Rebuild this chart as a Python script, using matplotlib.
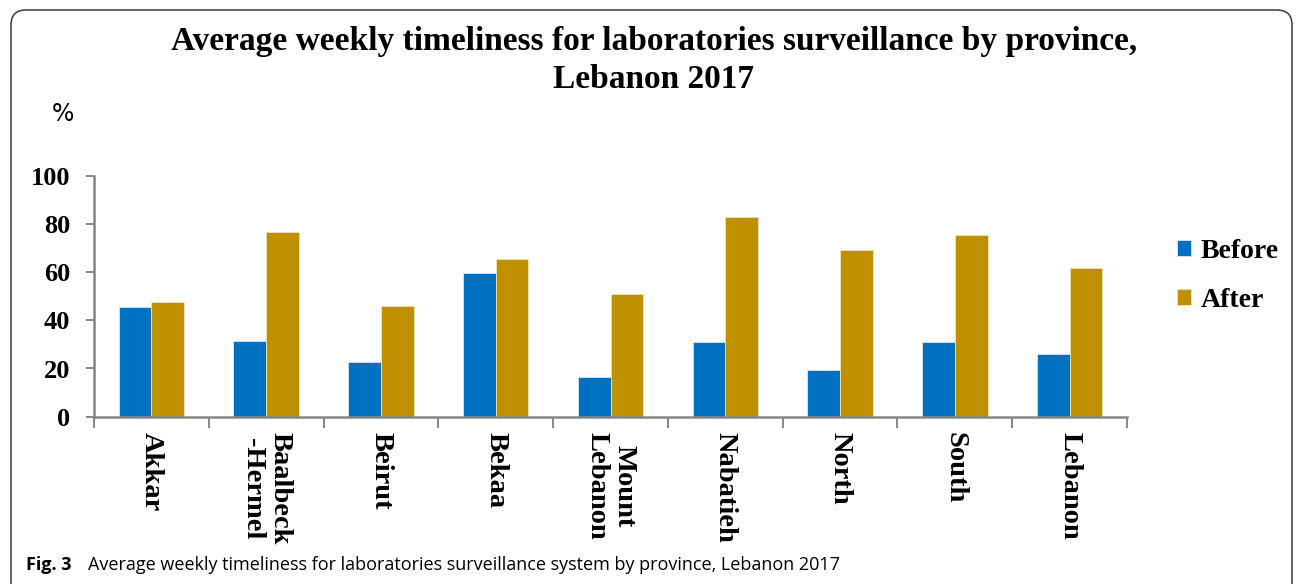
import matplotlib
matplotlib.use("Agg")
import matplotlib.pyplot as plt
from matplotlib.patches import FancyBboxPatch
import numpy as np

# data
provinces = ["Akkar", "Baalbeck\n-Hermel", "Beirut", "Bekaa", "Mount\nLebanon",
             "Nabatieh", "North", "South", "Lebanon"]
before = [45.6, 31.5, 22.6, 59.8, 16.3, 30.9, 19.5, 30.9, 26.1]
after = [47.6, 76.6, 45.8, 65.3, 50.8, 82.9, 69.3, 75.4, 61.8]
yticks = [0, 20, 40, 60, 80, 100]

serif = "Liberation Serif"
blue = "#0070C0"
gold = "#BF9000"
axis_gray = "#868686"

fig = plt.figure(figsize=(12.96, 5.84), dpi=100)
ax = fig.add_axes([94/1296, 1-416.7/584, (1127-94)/1296, (416.7-175.7)/584])

x = np.arange(len(provinces))
w = 0.285
ax.bar(x - w/2, before, w, color=blue, edgecolor="#dbe6f2", linewidth=0.6, label="Before")
ax.bar(x + w/2, after, w, color=gold, edgecolor="#efe3bd", linewidth=0.6, label="After")

ax.set_xlim(-0.5, len(provinces) - 0.5)
ax.set_ylim(0, 100)
ax.set_yticks(yticks)
ax.set_yticklabels([str(v) for v in yticks], fontfamily=serif, fontweight="bold", fontsize=19)
ax.tick_params(axis="y", direction="out", length=6, width=1.4, color=axis_gray, pad=11)

# category boundaries as ticks, names at the centres
ax.set_xticks(np.arange(-0.5, len(provinces), 1.0))
ax.set_xticklabels([])
ax.set_xticks(x, minor=True)
ax.set_xticklabels(provinces, minor=True, rotation=-90, fontfamily=serif,
                   fontweight="bold", fontsize=20.5, va="top", ha="center",
                   linespacing=1.12)
ax.tick_params(axis="x", which="major", direction="out", length=8, width=1.4, color=axis_gray)
ax.tick_params(axis="x", which="minor", length=0, pad=11)

for s in ["top", "right"]:
    ax.spines[s].set_visible(False)
for s in ["left", "bottom"]:
    ax.spines[s].set_color(axis_gray)
    ax.spines[s].set_linewidth(1.8)

leg = fig.legend(loc="upper left", bbox_to_anchor=(1152/1296, 1-214/584), frameon=False,
                 handlelength=0.5, handleheight=0.5, handletextpad=0.35,
                 labelspacing=0.85, prop={"family": serif, "weight": "bold", "size": 20})

fig.text(654/1296, 1-26/584, "Average weekly timeliness for laboratories surveillance by province,\nLebanon 2017",
         ha="center", va="top", fontfamily=serif, fontweight="bold", fontsize=24,
         linespacing=1.28)

fig.text(52/1296, 1-114/584, "%", ha="left", va="center", fontfamily="DejaVu Sans", fontsize=17)

fig.text(26/1296, 1-565/584, "Fig. 3", ha="left", va="center", fontfamily="Open Sans",
         fontweight="bold", fontsize=13)
fig.text(88/1296, 1-565/584, "Average weekly timeliness for laboratories surveillance system by province, Lebanon 2017",
         ha="left", va="center", fontfamily="Open Sans", fontsize=13)

frame = FancyBboxPatch((0.11 + 0.15, -0.3), 12.81 - 0.3, 5.74 + 0.3 - 0.15,
                       boxstyle="round,pad=0.15,rounding_size=0.15",
                       transform=fig.dpi_scale_trans, facecolor="none",
                       edgecolor="#3a3a3a", linewidth=1.1)
fig.patches.append(frame)

fig.savefig("out.png", dpi=100)
